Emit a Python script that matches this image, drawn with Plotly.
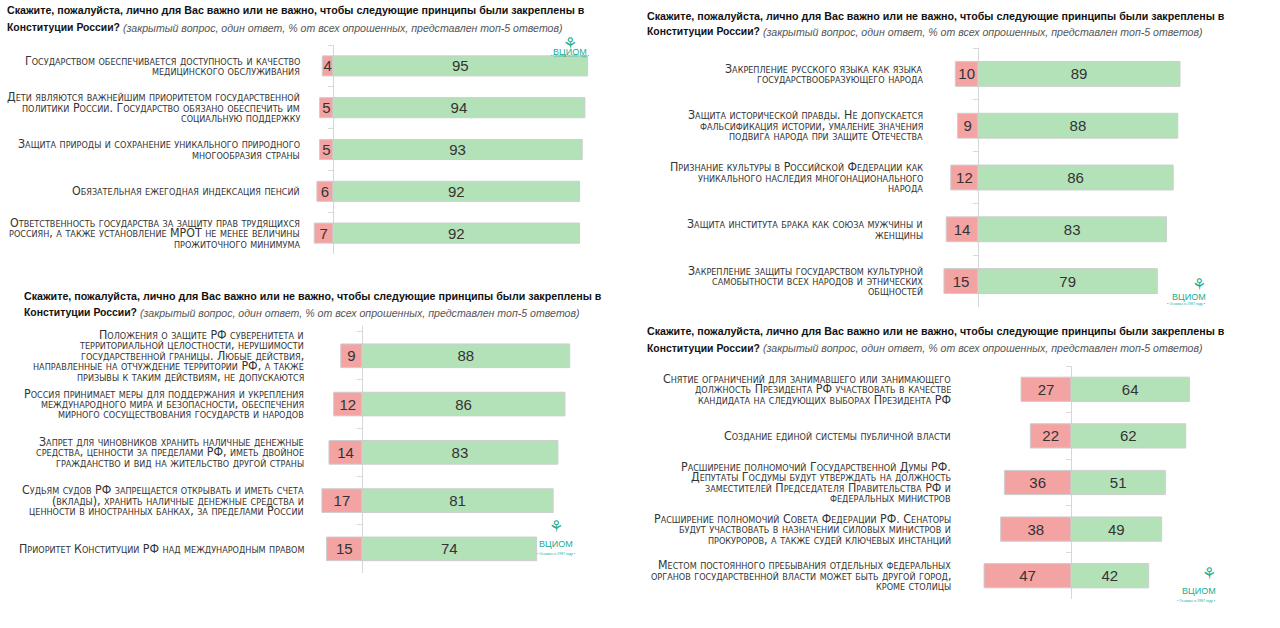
import plotly.graph_objects as go

# ---------------- data ----------------
title_main = "Скажите, пожалуйста, лично для Вас важно или не важно, чтобы следующие принципы были закреплены в"
title_second = "Конституции России?"
title_note = "(закрытый вопрос, один ответ, % от всех опрошенных, представлен топ-5 ответов)"

a_labels = [
    "Государством обеспечивается доступность и качество\nмедицинского обслуживания",
    "Дети являются важнейшим приоритетом государственной\nполитики России. Государство обязано обеспечить им\nсоциальную поддержку",
    "Защита природы и сохранение уникального природного\nмногообразия страны",
    "Обязательная ежегодная индексация пенсий",
    "Ответственность государства за защиту прав трудящихся\nроссиян, а также установление МРОТ не менее величины\nпрожиточного минимума",
]
a_not_important = [4, 5, 5, 6, 7]
a_important = [95, 94, 93, 92, 92]

b_labels = [
    "Положения о защите РФ суверенитета и\nтерриториальной целостности, нерушимости\nгосударственной границы. Любые действия,\nнаправленные на отчуждение территории РФ, а также\nпризывы к таким действиям, не допускаются",
    "Россия принимает меры для поддержания и укрепления\nмеждународного мира и безопасности, обеспечения\nмирного сосуществования государств и народов",
    "Запрет для чиновников хранить наличные денежные\nсредства, ценности за пределами РФ, иметь двойное\nгражданство и вид на жительство другой страны",
    "Судьям судов РФ запрещается открывать и иметь счета\n(вклады), хранить наличные денежные средства и\nценности в иностранных банках, за пределами России",
    "Приоритет Конституции РФ над международным правом",
]
b_not_important = [9, 12, 14, 17, 15]
b_important = [88, 86, 83, 81, 74]

c_labels = [
    "Закрепление русского языка как языка\nгосударствообразующего народа",
    "Защита исторической правды. Не допускается\nфальсификация истории, умаление значения\nподвига народа при защите Отечества",
    "Признание культуры в Российской Федерации как\nуникального наследия многонационального\nнарода",
    "Защита института брака как союза мужчины и\nженщины",
    "Закрепление защиты государством культурной\nсамобытности всех народов и этнических\nобщностей",
]
c_not_important = [10, 9, 12, 14, 15]
c_important = [89, 88, 86, 83, 79]

d_labels = [
    "Снятие ограничений для занимавшего или занимающего\nдолжность Президента РФ участвовать в качестве\nкандидата на следующих выборах Президента РФ",
    "Создание единой системы публичной власти",
    "Расширение полномочий Государственной Думы РФ.\nДепутаты Госдумы будут утверждать на должность\nзаместителей Председателя Правительства РФ и\nфедеральных министров",
    "Расширение полномочий Совета Федерации РФ. Сенаторы\nбудут участвовать в назначении силовых министров и\nпрокуроров, а также судей ключевых инстанций",
    "Местом постоянного пребывания отдельных федеральных\nорганов государственной власти может быть другой город,\nкроме столицы",
]
d_not_important = [27, 22, 36, 38, 47]
d_important = [64, 62, 51, 49, 42]

logo_text = "ВЦИОМ"
logo_tag = "• Основан в 1987 году •"

# ---------------- styling / layout (screen pixels) ----------------
W, H = 1280, 628


def px(x):
    return x / W


def py(y):
    return 1 - y / H


RED = "#f4a3a3"
GREEN = "#b4e2b8"
EDGE = "#cdcdcd"
LABEL_FONT = "DejaVu Sans Condensed, sans-serif"
TITLE_FONT = "Liberation Sans, Arial, sans-serif"
NUM_FONT = "Liberation Sans, Arial, sans-serif"
TEAL = "#22ad8f"

panels = [
    dict(labels=a_labels, neg=a_not_important, pos=a_important, xd=(300, 610), zero=333, ppu=2.68,
         yt=45, yb=254, bw=0.48, lab_r=302, title=(5, 10, 28), logo=(570, 33)),
    dict(labels=b_labels, neg=b_not_important, pos=b_important, xd=(300, 610), zero=362, ppu=2.36,
         yt=326, yb=573, bw=0.49, lab_r=306, title=(22, 296, 313), logo=(556, 539)),
    dict(labels=c_labels, neg=c_not_important, pos=c_important, xd=(920, 1250), zero=978, ppu=2.27,
         yt=48, yb=307, bw=0.48, lab_r=925, title=(645, 16, 32), logo=(1208, 285)),
    dict(labels=d_labels, neg=d_not_important, pos=d_important, xd=(960, 1250), zero=1071, ppu=1.85,
         yt=366, yb=599, bw=0.52, lab_r=953, title=(645, 331, 348), logo=(1218, 586)),
]

fig = go.Figure()
layout = {}
annotations = []
LINE_H = 10.4

for i, p in enumerate(panels, start=1):
    sfx = "" if i == 1 else str(i)
    xa, ya = "x" + sfx, "y" + sfx
    cats = p["labels"]
    for vals, sign, col in ((p["neg"], -1, RED), (p["pos"], 1, GREEN)):
        fig.add_trace(go.Bar(
            y=cats, x=[sign * v for v in vals], orientation="h", xaxis=xa, yaxis=ya,
            marker=dict(color=col, line=dict(color=EDGE, width=1)),
            width=p["bw"], text=[str(v) for v in vals], textposition="inside",
            insidetextanchor="middle", constraintext="none", textangle=0,
            textfont=dict(family=NUM_FONT, size=15, color="#333333"),
            showlegend=False, hoverinfo="skip"))

    x0, x1 = p["xd"]
    xr = [-(p["zero"] - x0) / p["ppu"], (x1 - p["zero"]) / p["ppu"]]
    layout["xaxis" + sfx] = dict(
        domain=[px(x0), px(x1)], range=xr, anchor=ya, showgrid=False,
        showticklabels=False, zeroline=True, zerolinecolor="#d6d6d6", zerolinewidth=1,
        fixedrange=True)
    layout["yaxis" + sfx] = dict(
        domain=[py(p["yb"]), py(p["yt"])], anchor="free",
        position=px(p["zero"]), type="category", categoryorder="array",
        categoryarray=cats, autorange="reversed", showgrid=False, showline=False,
        showticklabels=False, ticks="outside", ticklen=5, tickcolor="#dadada",
        tickson="boundaries", zeroline=False, fixedrange=True)

    # category labels (small caps, right aligned, one annotation per line)
    for cat in cats:
        lines = cat.split("\n")
        n = len(lines)
        for k, ln in enumerate(lines):
            off = ((n - 1) / 2 - k) * LINE_H
            annotations.append(dict(
                x=px(p["lab_r"]), xref="paper", xanchor="right",
                y=cat, yref=ya, yanchor="middle", yshift=off,
                text=ln, showarrow=False, align="right",
                font=dict(family=LABEL_FONT, size=12.3, color="#333333", variant="small-caps")))

    # panel title (two lines; second line = bold part + grey italic note)
    tx, ty1, ty2 = p["title"]
    annotations.append(dict(
        x=px(tx), xref="paper", xanchor="left", y=py(ty1), yref="paper", yanchor="middle",
        showarrow=False, align="left", text=f"<b>{title_main}</b>",
        font=dict(family=TITLE_FONT, size=10.7, color="#111111")))
    annotations.append(dict(
        x=px(tx), xref="paper", xanchor="left", y=py(ty2), yref="paper", yanchor="middle",
        showarrow=False, align="left", text=f"<b>{title_second}</b>",
        font=dict(family=TITLE_FONT, size=10.4, color="#111111")))
    annotations.append(dict(
        x=px(tx + 116), xref="paper", xanchor="left", y=py(ty2), yref="paper", yanchor="middle",
        showarrow=False, align="left", text=f"<i>{title_note}</i>",
        font=dict(family=TITLE_FONT, size=10.6, color="#555555")))

    # logo
    lx, ly = p["logo"]
    annotations.append(dict(x=px(lx), xref="paper", y=py(ly - 1), yref="paper",
                            text="⚘", showarrow=False,
                            font=dict(family="DejaVu Sans", size=16, color=TEAL)))
    annotations.append(dict(x=px(lx), xref="paper", y=py(ly + 12), yref="paper",
                            text=logo_text, showarrow=False,
                            font=dict(family="Liberation Sans, Arial", size=9, color=TEAL)))
    annotations.append(dict(x=px(lx), xref="paper", y=py(ly + 19), yref="paper",
                            text=logo_tag, showarrow=False,
                            font=dict(family="Liberation Sans, Arial", size=3.5, color=TEAL)))

fig.update_layout(
    width=W, height=H, margin=dict(l=0, r=0, t=0, b=0),
    paper_bgcolor="white", plot_bgcolor="rgba(0,0,0,0)",
    barmode="relative", bargap=0.5,
    annotations=annotations, showlegend=False, **layout)

fig.write_html("out.html", config={"displayModeBar": False},
               post_script="document.body.style.margin='0';document.body.style.overflow='hidden';")
